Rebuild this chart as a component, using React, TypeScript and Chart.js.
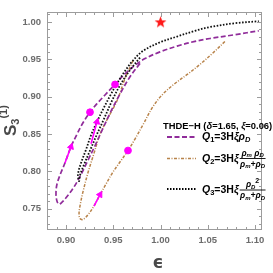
import React, { useEffect, useRef } from 'react';
import { Chart, registerables } from 'chart.js';

Chart.register(...registerables);

// ---- data (ε, S3^(1)) ----
const q1Eps = [0.9783, 0.9677, 0.9571, 0.9466, 0.9381, 0.9307, 0.9233, 0.9159, 0.9085, 0.9011, 0.8958, 0.8926, 0.8905, 0.8894, 0.8905, 0.8947, 0.8989, 0.9053, 0.9116, 0.918, 0.9254, 0.9328, 0.9413, 0.9519, 0.9624, 0.973, 0.9836, 0.9995, 1.0175, 1.0365, 1.0524, 1.0788, 1.104];
const q1S = [0.9445, 0.9265, 0.9035, 0.8778, 0.8547, 0.8342, 0.815, 0.7958, 0.7791, 0.7663, 0.7586, 0.756, 0.7599, 0.7701, 0.7829, 0.7983, 0.8111, 0.8329, 0.8496, 0.865, 0.8791, 0.8906, 0.9022, 0.9163, 0.9304, 0.9419, 0.9509, 0.9599, 0.9676, 0.974, 0.9778, 0.9829, 0.9881];

const q2Eps = [0.9709, 0.9624, 0.954, 0.9444, 0.936, 0.9296, 0.9233, 0.918, 0.9148, 0.9138, 0.9148, 0.918, 0.9233, 0.9296, 0.936, 0.9423, 0.9487, 0.9571, 0.9656, 0.973, 0.9815, 0.9921, 1.0026, 1.0153, 1.0291, 1.0418, 1.0545, 1.0683];
const q2S = [0.9483, 0.924, 0.8945, 0.8714, 0.8496, 0.824, 0.7983, 0.7727, 0.7535, 0.7432, 0.7368, 0.7355, 0.7419, 0.7535, 0.7688, 0.7829, 0.797, 0.8124, 0.8278, 0.8432, 0.8624, 0.8868, 0.9035, 0.9176, 0.9304, 0.9432, 0.9573, 0.974];

const q3Eps = [0.9783, 0.9677, 0.9571, 0.9487, 0.9402, 0.9328, 0.9254, 0.919, 0.9148, 0.9138, 0.9127, 0.9159, 0.9212, 0.9265, 0.9328, 0.9402, 0.9466, 0.954, 0.9624, 0.9709, 0.9815, 0.9995, 1.0175, 1.0365, 1.0524, 1.0788, 1.104];
const q3S = [0.9522, 0.9355, 0.915, 0.8945, 0.8701, 0.8496, 0.8278, 0.8086, 0.7945, 0.7868, 0.7958, 0.8111, 0.8291, 0.8483, 0.8663, 0.8855, 0.9009, 0.9176, 0.9342, 0.9483, 0.9612, 0.9727, 0.9804, 0.9881, 0.9932, 0.9983, 1.0009];

const dotEps = [0.9254, 0.9519, 0.9656];
const dotS = [0.8791, 0.9163, 0.8278];

const arrowFromEps = [0.8989, 0.9265, 0.9296];
const arrowFromS = [0.8111, 0.8368, 0.7535];
const arrowToEps = [0.9053, 0.9328, 0.936];
const arrowToS = [0.8329, 0.8663, 0.7688];
const arrowAngles = [19, 15, 30];

const starEps = [1.0];
const starS = [1.0];

const xMajor = [0.9, 0.95, 1.0, 1.05, 1.1];
const yMajor = [0.75, 0.8, 0.85, 0.9, 0.95, 1.0];
const xMinor = [0.88, 0.89, 0.91, 0.92, 0.93, 0.94, 0.96, 0.97, 0.98, 0.99, 1.01, 1.02, 1.03, 1.04, 1.06, 1.07, 1.08, 1.09];
const yMinor = [0.73, 0.74, 0.76, 0.77, 0.78, 0.79, 0.81, 0.82, 0.83, 0.84, 0.86, 0.87, 0.88, 0.89, 0.91, 0.92, 0.93, 0.94, 0.96, 0.97, 0.98, 0.99, 1.01];

const PURPLE = '#902c9a';
const BROWN = '#b8834a';
const MAGENTA = '#ff00ff';
const FONT = '"Liberation Sans", Arial, sans-serif';

const pts = (xs: number[], ys: number[]) => xs.map((x, i) => ({ x, y: ys[i] }));

function makeStar(): HTMLCanvasElement {
  const c = document.createElement('canvas');
  c.width = 13; c.height = 13;
  const g = c.getContext('2d')!;
  g.fillStyle = '#ff1a1a';
  g.beginPath();
  for (let i = 0; i < 10; i++) {
    const r = i % 2 === 0 ? 6.2 : 2.6;
    const a = -Math.PI / 2 + (i * Math.PI) / 5;
    const px = 6.5 + r * Math.cos(a);
    const py = 7 + r * Math.sin(a);
    if (i === 0) g.moveTo(px, py); else g.lineTo(px, py);
  }
  g.closePath();
  g.fill();
  return c;
}

type Run = { t: string; f: string; dy?: number };
function runs(ctx: CanvasRenderingContext2D, x: number, y: number, list: Run[], draw = true) {
  for (const r of list) {
    ctx.font = r.f;
    if (draw) ctx.fillText(r.t, x, y + (r.dy || 0));
    x += ctx.measureText(r.t).width;
  }
  return x;
}

const B = (s: number) => `bold ${s}px ${FONT}`;
const BI = (s: number) => `italic bold ${s}px ${FONT}`;

function fraction(ctx: CanvasRenderingContext2D, x: number, barY: number, num: Run[], den: Run[]) {
  const wn = runs(ctx, 0, 0, num, false);
  const wd = runs(ctx, 0, 0, den, false);
  const w = Math.max(wn, wd) + 1;
  runs(ctx, x + (w - wn) / 2, barY - 2.5, num);
  runs(ctx, x + (w - wd) / 2, barY + 8.5, den);
  ctx.beginPath();
  ctx.lineWidth = 0.9;
  ctx.strokeStyle = '#000';
  ctx.moveTo(x, barY + 0.5);
  ctx.lineTo(x + w, barY + 0.5);
  ctx.stroke();
}

const decor = {
  id: 'decor',
  afterDraw(chart: any) {
    const ctx: CanvasRenderingContext2D = chart.ctx;
    const { left, right, top, bottom } = chart.chartArea;
    const xs = chart.scales.x;
    const ys = chart.scales.y;
    ctx.save();
    // frame
    ctx.strokeStyle = '#9c9c9c';
    ctx.lineWidth = 1;
    const L = Math.round(left) + 0.5, R = Math.round(right) - 0.5, T = Math.round(top) + 0.5, Bt = Math.round(bottom) - 0.5;
    ctx.strokeRect(L, T, R - L, Bt - T);
    ctx.beginPath();
    const xt = (v: number, len: number) => {
      const p = Math.round(xs.getPixelForValue(v)) + 0.5;
      ctx.moveTo(p, Bt); ctx.lineTo(p, Bt - len);
      ctx.moveTo(p, T); ctx.lineTo(p, T + len);
    };
    const yt = (v: number, len: number) => {
      const p = Math.round(ys.getPixelForValue(v)) + 0.5;
      ctx.moveTo(L, p); ctx.lineTo(L + len, p);
      ctx.moveTo(R, p); ctx.lineTo(R - len, p);
    };
    xMajor.forEach(v => xt(v, 4.5));
    xMinor.forEach(v => xt(v, 2.5));
    yMajor.forEach(v => yt(v, 4.5));
    yMinor.forEach(v => yt(v, 2.5));
    ctx.stroke();

    // axis titles
    ctx.fillStyle = '#4a4a4a';
    ctx.textBaseline = 'alphabetic';
    ctx.font = `bold 17px "DejaVu Sans", ${FONT}`;
    ctx.textAlign = 'center';
    ctx.fillText('ϵ', 158, 268);
    ctx.textAlign = 'left';
    ctx.save();
    ctx.translate(10, 136);
    ctx.rotate(-Math.PI / 2);
    runs(ctx, 0, 6, [
      { t: 'S', f: B(17) },
      { t: '3', f: B(11), dy: 3 },
      { t: '(1)', f: B(11), dy: -9 },
    ]);
    ctx.restore();

    // legend
    ctx.fillStyle = '#000';
    runs(ctx, 163, 128.5, [
      { t: 'THDE−H (', f: B(9.4) },
      { t: 'δ', f: BI(9.4) },
      { t: '=1.65, ', f: B(9.4) },
      { t: 'ξ', f: BI(9.4) },
      { t: '=0.06)', f: B(9.4) },
    ]);
    const sample = (y: number, color: string, dash: number[], w: number) => {
      ctx.beginPath();
      ctx.setLineDash(dash);
      ctx.strokeStyle = color;
      ctx.lineWidth = w;
      ctx.moveTo(167, y);
      ctx.lineTo(196, y);
      ctx.stroke();
      ctx.setLineDash([]);
    };
    sample(137, PURPLE, [5, 2.5], 2);
    sample(158.5, BROWN, [3, 1.5, 1, 1.5], 1.6);
    sample(189, '#000', [1.5, 1.5], 1.8);

    ctx.fillStyle = '#000';
    runs(ctx, 202, 139.5, [
      { t: 'Q', f: BI(10.5) },
      { t: '1', f: B(7.5), dy: 2 },
      { t: '=3H', f: B(10.5) },
      { t: 'ξ', f: BI(10.5) },
      { t: 'ρ', f: BI(10.5) },
      { t: 'D', f: BI(7.5), dy: 2 },
    ]);
    let e = runs(ctx, 202, 161.5, [
      { t: 'Q', f: BI(10.5) },
      { t: '2', f: B(7.5), dy: 2 },
      { t: '=3H', f: B(10.5) },
      { t: 'ξ', f: BI(10.5) },
    ]);
    fraction(ctx, e + 1, 158, [
      { t: 'ρ', f: BI(8.5) }, { t: 'm', f: BI(6), dy: 1.5 }, { t: ' ρ', f: BI(8.5) }, { t: 'D', f: BI(6), dy: 1.5 },
    ], [
      { t: 'ρ', f: BI(8.5) }, { t: 'm', f: BI(6), dy: 1.5 }, { t: '+ρ', f: BI(8.5) }, { t: 'D', f: BI(6), dy: 1.5 },
    ]);
    e = runs(ctx, 202, 192.5, [
      { t: 'Q', f: BI(10.5) },
      { t: '3', f: B(7.5), dy: 2 },
      { t: '=3H', f: B(10.5) },
      { t: 'ξ', f: BI(10.5) },
    ]);
    fraction(ctx, e + 1, 189.5, [
      { t: 'ρ', f: BI(8.5) }, { t: 'D', f: BI(6), dy: 1.5 }, { t: '2', f: B(7), dy: -4 },
    ], [
      { t: 'ρ', f: BI(8.5) }, { t: 'm', f: BI(6), dy: 1.5 }, { t: '+ρ', f: BI(8.5) }, { t: 'D', f: BI(6), dy: 1.5 },
    ]);
    ctx.restore();
  },
};

export default function App() {
  const ref = useRef<HTMLCanvasElement | null>(null);
  useEffect(() => {
    document.body.style.margin = '0';
    const star = makeStar();
    const arrowSets = arrowFromEps.map((_, i) => ({
      data: [{ x: arrowFromEps[i], y: arrowFromS[i] }, { x: arrowToEps[i], y: arrowToS[i] }],
      showLine: true,
      borderColor: MAGENTA,
      backgroundColor: MAGENTA,
      borderWidth: 1.6,
      pointRadius: [0, 3.6],
      pointStyle: 'triangle',
      rotation: [0, arrowAngles[i]],
      pointBorderWidth: 1,
      order: 1,
    }));
    const chart = new Chart(ref.current!, {
      type: 'scatter',
      data: {
        datasets: [
          { data: pts(starEps, starS), pointStyle: star as any, pointRadius: 6, order: 0 },
          { data: pts(dotEps, dotS), pointRadius: 3.4, backgroundColor: MAGENTA, borderColor: MAGENTA, order: 0 },
          ...arrowSets,
          { data: pts(q3Eps, q3S), showLine: true, borderColor: '#111', borderDash: [1.6, 1.6], borderWidth: 1.8, pointRadius: 0, tension: 0.35, order: 2 },
          { data: pts(q1Eps, q1S), showLine: true, borderColor: PURPLE, borderDash: [5, 2.5], borderWidth: 1.7, pointRadius: 0, tension: 0.35, order: 3 },
          { data: pts(q2Eps, q2S), showLine: true, borderColor: BROWN, borderDash: [3, 1.5, 1, 1.5], borderWidth: 1.5, pointRadius: 0, tension: 0.35, order: 4 },
        ] as any,
      },
      options: {
        animation: false,
        responsive: false,
        devicePixelRatio: 1,
        layout: { padding: { top: 2, right: 11, left: 0, bottom: 0 } },
        plugins: { legend: { display: false }, tooltip: { enabled: false } },
        scales: {
          x: {
            type: 'linear',
            min: 0.8799,
            max: 1.1074,
            afterBuildTicks: (s: any) => { s.ticks = xMajor.map(v => ({ value: v })); },
            afterFit: (s: any) => { s.height = 43; },
            grid: { display: false, drawTicks: false },
            border: { display: false },
            ticks: {
              autoSkip: false, maxRotation: 0, padding: 5,
              color: '#6c6c6c', font: { family: FONT, size: 9.5, weight: 'bold' },
              callback: (v: any) => Number(v).toFixed(2),
            },
          },
          y: {
            type: 'linear',
            min: 0.7214,
            max: 1.0137,
            afterBuildTicks: (s: any) => { s.ticks = yMajor.map(v => ({ value: v })); },
            afterFit: (s: any) => { s.width = 47; },
            grid: { display: false, drawTicks: false },
            border: { display: false },
            ticks: {
              autoSkip: false, padding: 6,
              color: '#6c6c6c', font: { family: FONT, size: 9.5, weight: 'bold' },
              callback: (v: any) => Number(v).toFixed(2),
            },
          },
        },
      } as any,
      plugins: [decor],
    });
    return () => chart.destroy();
  }, []);
  return (
    <div style={{ width: 273, height: 273 }}>
      <canvas ref={ref} width={273} height={273} style={{ display: 'block', width: 273, height: 273 }} />
    </div>
  );
}
